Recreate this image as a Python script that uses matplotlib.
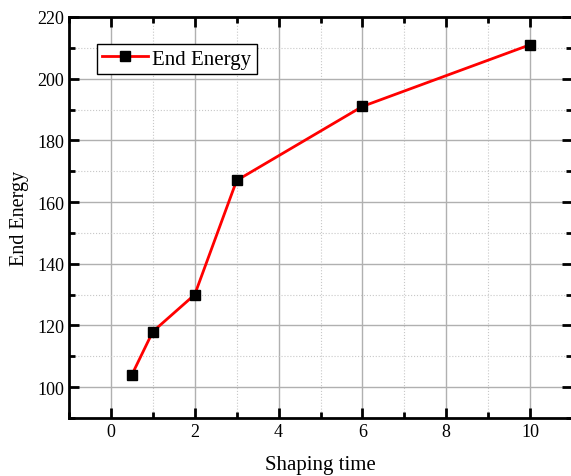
import matplotlib
matplotlib.use("Agg")
import matplotlib.pyplot as plt
from matplotlib.ticker import MultipleLocator

# data
shaping_time = [0.5, 1, 2, 3, 6, 10]
end_energy = [104, 118, 130, 167, 191, 211]

plt.rcParams['font.family'] = ['Liberation Serif', 'DejaVu Serif']

fig = plt.figure(figsize=(5.71, 4.77), dpi=100)
ax = fig.add_axes([0.1208, 0.1216, 0.881, 0.8407])

ax.plot(shaping_time, end_energy, color='red', lw=2, marker='s',
        markersize=6.5, markerfacecolor='black', markeredgecolor='black',
        label='End Energy', zorder=3)

ax.set_xlim(-1, 11)
ax.set_ylim(90, 220)
ax.xaxis.set_major_locator(MultipleLocator(2))
ax.xaxis.set_minor_locator(MultipleLocator(1))
ax.yaxis.set_major_locator(MultipleLocator(20))
ax.yaxis.set_minor_locator(MultipleLocator(10))

ax.grid(which='major', color='#b0b0b0', lw=1, ls='-')
ax.grid(which='minor', color='#c8c8c8', lw=0.8, ls=':')
ax.set_axisbelow(True)

for s in ax.spines.values():
    s.set_linewidth(2)
ax.tick_params(which='both', direction='in', top=True, right=True,
               labelsize=13, width=2)
ax.tick_params(which='major', length=7)
ax.tick_params(which='minor', length=4)

ax.set_xlabel('Shaping time', fontsize=15, labelpad=11)
ax.set_ylabel('End Energy', fontsize=14.5, labelpad=6)

leg = ax.legend(loc='upper left', bbox_to_anchor=(0.056, 0.933), fontsize=15,
                fancybox=False, edgecolor='black', framealpha=1,
                borderaxespad=0, handlelength=2.2, borderpad=0.25,
                handletextpad=0.2)
leg.get_frame().set_linewidth(1)

fig.savefig('out.png', dpi=100)
